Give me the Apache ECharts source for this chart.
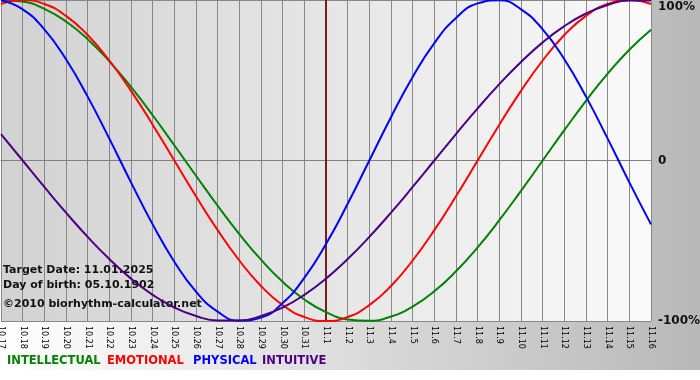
<!DOCTYPE html>
<html>
<head>
<meta charset="utf-8">
<script src="https://cdn.jsdelivr.net/npm/echarts@6/dist/echarts.min.js"></script>
<style>
html,body{margin:0;padding:0;background:#fff;}
#c{width:700px;height:380px;}
</style>
</head>
<body>
<div id="c"></div>
<script>
const days = ['10.17','10.18','10.19','10.20','10.21','10.22','10.23','10.24','10.25','10.26','10.27','10.28','10.29','10.30','10.31','11.1','11.2','11.3','11.4','11.5','11.6','11.7','11.8','11.9','11.10','11.11','11.12','11.13','11.14','11.15','11.16'];
const intellectual = [0.999,0.990,0.945,0.866,0.756,0.618,0.458,0.282,0.095,-0.095,-0.282,-0.458,-0.618,-0.756,-0.866,-0.945,-0.990,-0.999,-0.972,-0.910,-0.815,-0.690,-0.541,-0.372,-0.189,0.000,0.189,0.372,0.541,0.690,0.815];
const emotional = [0.975,1.000,0.975,0.901,0.782,0.623,0.434,0.223,0.000,-0.223,-0.434,-0.623,-0.782,-0.901,-0.975,-1.000,-0.975,-0.901,-0.782,-0.623,-0.434,-0.223,0.000,0.223,0.434,0.623,0.782,0.901,0.975,1.000,0.975];
const physical = [0.998,0.942,0.817,0.631,0.398,0.136,-0.136,-0.398,-0.631,-0.817,-0.942,-0.998,-0.979,-0.888,-0.731,-0.520,-0.270,0.000,0.270,0.520,0.731,0.888,0.979,0.998,0.942,0.817,0.631,0.398,0.136,-0.136,-0.398];
const intuitive = [0.165,0.000,-0.165,-0.325,-0.476,-0.614,-0.736,-0.837,-0.916,-0.969,-0.997,-0.997,-0.969,-0.916,-0.837,-0.736,-0.614,-0.476,-0.325,-0.165,0.000,0.165,0.325,0.476,0.614,0.736,0.837,0.916,0.969,0.997,0.997];
const seriesNames = ['INTELLECTUAL','EMOTIONAL','PHYSICAL','INTUITIVE'];
const seriesColors = ['#008000','#ff0000','#0000ff','#4b0082'];
const yTickLabels = ['-100%','0','100%'];
const targetDay = '11.1';
const infoLines = ['Target Date: 11.01.2025','Day of birth: 05.10.1902','©2010 biorhythm-calculator.net'];

const chart = echarts.init(document.getElementById('c'), null, {renderer:'canvas'});
const values = [intellectual, emotional, physical, intuitive];
const legendX = [7,107,193,262];

const series = values.map((d,i)=>({
  name: seriesNames[i],
  type: 'line',
  data: d,
  smooth: 0.5,
  symbol: 'none',
  lineStyle: {color: seriesColors[i], width: 2},
  itemStyle: {color: seriesColors[i]},
  z: 3 + i,
  animation: false
}));
series[0].markLine = {
  silent: true,
  symbol: ['none','none'],
  label: {show:false},
  lineStyle: {color:'#7a1c1c', width:2, type:'solid'},
  data: [{xAxis: targetDay}],
  animation: false,
  z: 2
};

const graphics = [
  {type:'rect', left:0, top:370, shape:{width:700,height:10}, style:{fill:'#ffffff'}, z:-1},
  {type:'text', left:3, top:265, style:{text:infoLines[0], font:'bold 11px "DejaVu Sans"', fill:'#111'}, z:1},
  {type:'text', left:3, top:280, style:{text:infoLines[1], font:'bold 11px "DejaVu Sans"', fill:'#111'}, z:1},
  {type:'text', left:3, top:299, style:{text:infoLines[2], font:'bold 11px "DejaVu Sans"', fill:'#111'}, z:1}
];
seriesNames.forEach((n,i)=>{
  graphics.push({type:'text', left:legendX[i], top:355, style:{text:n, font:'bold 11.5px "DejaVu Sans"', fill:seriesColors[i]}, z:10});
});

chart.setOption({
  backgroundColor: new echarts.graphic.LinearGradient(0,0,1,0,[{offset:0,color:'#ffffff'},{offset:1,color:'#b8b8b8'}]),
  animation: false,
  grid: {
    left: 1, right: 49, top: 0, bottom: 59,
    outerBoundsMode: 'none',
    containLabel: false,
    show: true,
    borderWidth: 0,
    backgroundColor: new echarts.graphic.LinearGradient(0,0,1,0,[{offset:0,color:'#d2d2d2'},{offset:1,color:'#fafafa'}])
  },
  xAxis: {
    type: 'category',
    data: days,
    boundaryGap: false,
    axisLine: {show:true, lineStyle:{color:'#808080', width:1}},
    axisTick: {show:true, length:4, interval:0, lineStyle:{color:'#808080'}},
    splitLine: {show:true, interval:0, lineStyle:{color:'#888888', width:1}},
    axisLabel: {interval:0, rotate:-90, margin:5, color:'#000', fontFamily:'DejaVu Sans', fontSize:8, hideOverlap:false}
  },
  yAxis: {
    type: 'value',
    position: 'right',
    min: -1, max: 1, interval: 1,
    axisLine: {show:false},
    axisTick: {show:false},
    splitLine: {show:true, lineStyle:{color:'#888888', width:1}},
    axisLabel: {
      margin: 7,
      formatter: v => {
        const s = yTickLabels[Math.round(v)+1];
        return v > 0.5 ? '{t|'+s+'}' : '{n|'+s+'}';
      },
      rich: {
        t: {fontFamily:'DejaVu Sans', fontWeight:'bold', fontSize:12, color:'#111', padding:[14,0,0,0]},
        n: {fontFamily:'DejaVu Sans', fontWeight:'bold', fontSize:12, color:'#111'}
      }
    }
  },
  graphic: graphics,
  series: series
});
</script>
</body>
</html>
